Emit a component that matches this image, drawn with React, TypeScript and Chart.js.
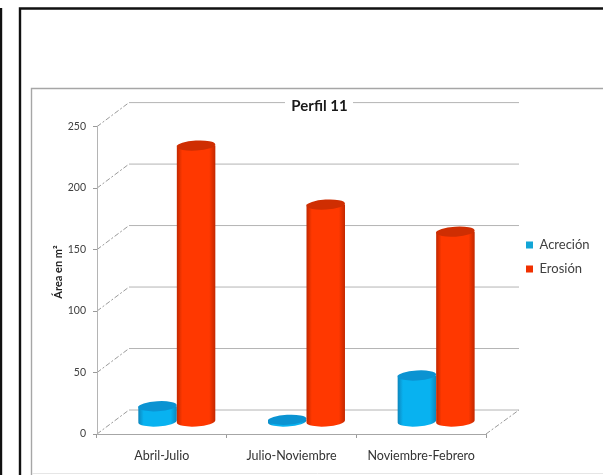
import React, { useEffect, useRef } from "react";
import { Chart, registerables } from "chart.js";

Chart.register(...registerables);

const categories = ["Abril-Julio", "Julio-Noviembre", "Noviembre-Febrero"];
const acrecion = [12, 1, 37];
const erosion = [224, 176, 154];
const yAxisTitle = "Área en m²";
const FONT = "Lato, Carlito, 'Open Sans', sans-serif";

const DEPTH_X = 32;
const DEPTH_Y = 24;
const BAR_DX = 15;
const BAR_DY = -13;
const TILT = -0.06;

function shade(ctx: CanvasRenderingContext2D, l: number, r: number, edge: string, mid: string) {
  const g = ctx.createLinearGradient(l, 0, r, 0);
  g.addColorStop(0, edge);
  g.addColorStop(0.14, mid);
  g.addColorStop(0.84, mid);
  g.addColorStop(1, edge);
  return g;
}

const frame3d = {
  id: "frame3d",
  beforeDraw(chart: any) {
    const { ctx, chartArea, scales } = chart;
    ctx.save();
    ctx.fillStyle = "#fff";
    ctx.fillRect(0, 0, 603, 475);
    ctx.strokeStyle = "#111";
    ctx.lineWidth = 2.4;
    ctx.beginPath();
    ctx.moveTo(20, 475);
    ctx.lineTo(20, 8.5);
    ctx.lineTo(603, 8.5);
    ctx.moveTo(1, 8);
    ctx.lineTo(1, 475);
    ctx.stroke();
    ctx.strokeStyle = "#a6a6a6";
    ctx.lineWidth = 1.4;
    ctx.beginPath();
    ctx.moveTo(31.5, 475);
    ctx.lineTo(31.5, 88.5);
    ctx.lineTo(603, 88.5);
    ctx.stroke();
    ctx.strokeStyle = "#e6e6e6";
    ctx.lineWidth = 1;
    ctx.beginPath();
    ctx.moveTo(32, 473.5);
    ctx.lineTo(603, 473.5);
    ctx.stroke();

    const y = scales.y;
    y.ticks.forEach((t: any) => {
      const py = y.getPixelForValue(t.value);
      ctx.strokeStyle = "#9a9a9a";
      ctx.lineWidth = 1;
      ctx.setLineDash([5, 2, 2, 2]);
      ctx.beginPath();
      ctx.moveTo(chartArea.left, py);
      ctx.lineTo(chartArea.left + DEPTH_X, py - DEPTH_Y);
      ctx.stroke();
      ctx.setLineDash([]);
      ctx.strokeStyle = "#b4b4b4";
      ctx.beginPath();
      ctx.moveTo(chartArea.left + DEPTH_X, py - DEPTH_Y);
      ctx.lineTo(chartArea.right + DEPTH_X + 1, py - DEPTH_Y);
      ctx.stroke();
    });
    const py0 = y.getPixelForValue(0);
    ctx.strokeStyle = "#9a9a9a";
    ctx.setLineDash([5, 2, 2, 2]);
    ctx.beginPath();
    ctx.moveTo(chartArea.right, py0);
    ctx.lineTo(chartArea.right + DEPTH_X + 1, py0 - DEPTH_Y);
    ctx.stroke();
    ctx.setLineDash([]);
    // gap in the top gridline behind the title
    ctx.fillStyle = "#fff";
    ctx.fillRect(285, 96, 68, 20);
    // value axis title
    ctx.translate(58, 272);
    ctx.rotate(-Math.PI / 2);
    ctx.textAlign = "center";
    ctx.textBaseline = "middle";
    ctx.fillStyle = "#222";
    ctx.font = `bold 11px ${FONT}`;
    ctx.fillText(yAxisTitle, 0, 0);
    ctx.restore();
  },
  beforeDatasetDraw() {
    return false;
  },
  afterDatasetsDraw(chart: any) {
    const { ctx } = chart;
    const palettes = [
      { edge: "#0d86bd", mid: "#08b2f0", top: "#0b93d2" },
      { edge: "#c22800", mid: "#ff3800", top: "#cf2e02" },
    ];
    ctx.save();
    chart.data.datasets.forEach((_: any, di: number) => {
      const p = palettes[di];
      chart.getDatasetMeta(di).data.forEach((el: any) => {
        const cx = el.x + BAR_DX;
        const rx = el.width / 2;
        const top = el.y + BAR_DY;
        const base = el.base + BAR_DY;
        const ry = 5;
        ctx.fillStyle = shade(ctx, cx - rx, cx + rx, p.edge, p.mid);
        ctx.beginPath();
        ctx.moveTo(cx - rx, top);
        ctx.lineTo(cx - rx, base);
        ctx.ellipse(cx, base + 1, rx, ry, TILT, Math.PI, 0, true);
        ctx.lineTo(cx + rx, top);
        ctx.closePath();
        ctx.fill();
        ctx.fillStyle = p.top;
        ctx.beginPath();
        ctx.ellipse(cx, top, rx, ry, TILT, 0, Math.PI * 2);
        ctx.fill();
      });
    });
    ctx.restore();
  },
  afterLayout(chart: any) {
    const legend = chart.legend;
    const w = legend.width;
    const h = legend.height;
    legend.left = 515;
    legend.right = 515 + w;
    legend.top = 227.5;
    legend.bottom = 227.5 + h;
    const t = chart.titleBlock;
    t.left = 269.5;
    t.right = 369.5;
  },
};

export default function App() {
  const ref = useRef<HTMLCanvasElement>(null);
  useEffect(() => {
    document.body.style.margin = "0";
    const chart = new Chart(ref.current as HTMLCanvasElement, {
      type: "bar",
      data: {
        labels: categories,
        datasets: [
          { label: "Acreción", data: acrecion, backgroundColor: "#12a5d6", borderWidth: 0 },
          { label: "Erosión", data: erosion, backgroundColor: "#f03000", borderWidth: 0 },
        ],
      },
      options: {
        animation: false,
        responsive: false,
        layout: { padding: { left: 50, right: 117, top: 97, bottom: 0 } },
        datasets: { bar: { barPercentage: 1, categoryPercentage: 0.594 } },
        plugins: {
          tooltip: { enabled: false },
          title: {
            display: true,
            text: "Perfil 11",
            color: "#1a1a1a",
            font: { family: FONT, size: 15, weight: "bold" },
            padding: { top: 0, bottom: 11.6 },
          },
          legend: {
            position: "chartArea",
            align: "start",
            labels: {
              boxWidth: 7,
              boxHeight: 7,
              padding: 11,
              color: "#404040",
              font: { family: FONT, size: 13 },
            },
          },
        },
        scales: {
          x: {
            afterFit: (s: any) => {
              s.height = 41;
            },
            grid: { drawOnChartArea: false, tickLength: 4, color: "#9a9a9a" },
            border: { color: "#a6a6a6" },
            ticks: { color: "#333", padding: 10, font: { family: FONT, size: 12.5 } },
          },
          y: {
            min: 0,
            max: 250,
            afterFit: (s: any) => {
              s.width = 47;
            },
            grid: { drawOnChartArea: false, tickLength: 4, color: "#9a9a9a" },
            border: { color: "#b4b4b4" },
            ticks: { stepSize: 50, color: "#404040", padding: 7, font: { family: FONT, size: 10.5 } },
          },
        },
      },
      plugins: [frame3d],
    } as any);
    return () => chart.destroy();
  }, []);
  return (
    <canvas
      ref={ref}
      width={603}
      height={475}
      style={{ position: "absolute", left: 0, top: 0, display: "block" }}
    />
  );
}
